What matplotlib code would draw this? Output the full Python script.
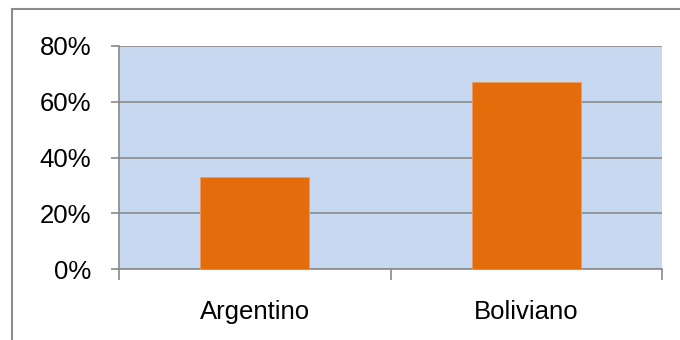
import matplotlib
matplotlib.use("Agg")
import matplotlib.pyplot as plt
from matplotlib.lines import Line2D
from matplotlib.ticker import FixedLocator

categories = ["Argentino", "Boliviano"]
shares = [33, 67]
y_ticks = [0, 20, 40, 60, 80]
y_labels = ["0%", "20%", "40%", "60%", "80%"]

plt.rcParams["font.family"] = ["Liberation Sans", "DejaVu Sans"]

fig = plt.figure(figsize=(6.8, 3.4), dpi=100)
fig.patch.set_facecolor("white")

# frame lines along the top and left of the chart area
fig.add_artist(Line2D([12 / 680, 12 / 680], [0, 1 - 9 / 340], transform=fig.transFigure,
                      color="#8c8c8c", lw=1.5))
fig.add_artist(Line2D([12 / 680, 1], [1 - 9 / 340, 1 - 9 / 340], transform=fig.transFigure,
                      color="#8c8c8c", lw=1.5))

ax = fig.add_axes([119 / 680, 1 - 269.3 / 340, 543 / 680, (269.3 - 45.7) / 340])
ax.set_facecolor("#C6D9F1")

x = list(range(len(categories)))
ax.bar(x, shares, width=0.4, color="#E46C0A", edgecolor="#EE9A5C", linewidth=0.6, zorder=3)

ax.set_xlim(-0.5, len(categories) - 0.5)
ax.set_ylim(0, 80)
ax.set_yticks(y_ticks)
ax.set_yticklabels(y_labels)
ax.yaxis.grid(True, color="#8a8a8a", linewidth=1.2, zorder=1)
ax.set_axisbelow(True)

ax.set_xticks(x)
ax.set_xticklabels(categories)
ax.xaxis.set_minor_locator(FixedLocator([i - 0.5 for i in range(len(categories) + 1)]))

for s in ("top", "right"):
    ax.spines[s].set_visible(False)
for s in ("left", "bottom"):
    ax.spines[s].set_color("#8a8a8a")
    ax.spines[s].set_linewidth(1.2)

ax.tick_params(axis="y", length=6, width=1.2, color="#8a8a8a", pad=14, labelsize=18.5,
               labelcolor="black")
ax.tick_params(axis="x", which="major", length=0, pad=22, labelsize=18.5, labelcolor="black")
ax.tick_params(axis="x", which="minor", length=8, width=1.2, color="#8a8a8a")

fig.savefig("out.png", dpi=100)
